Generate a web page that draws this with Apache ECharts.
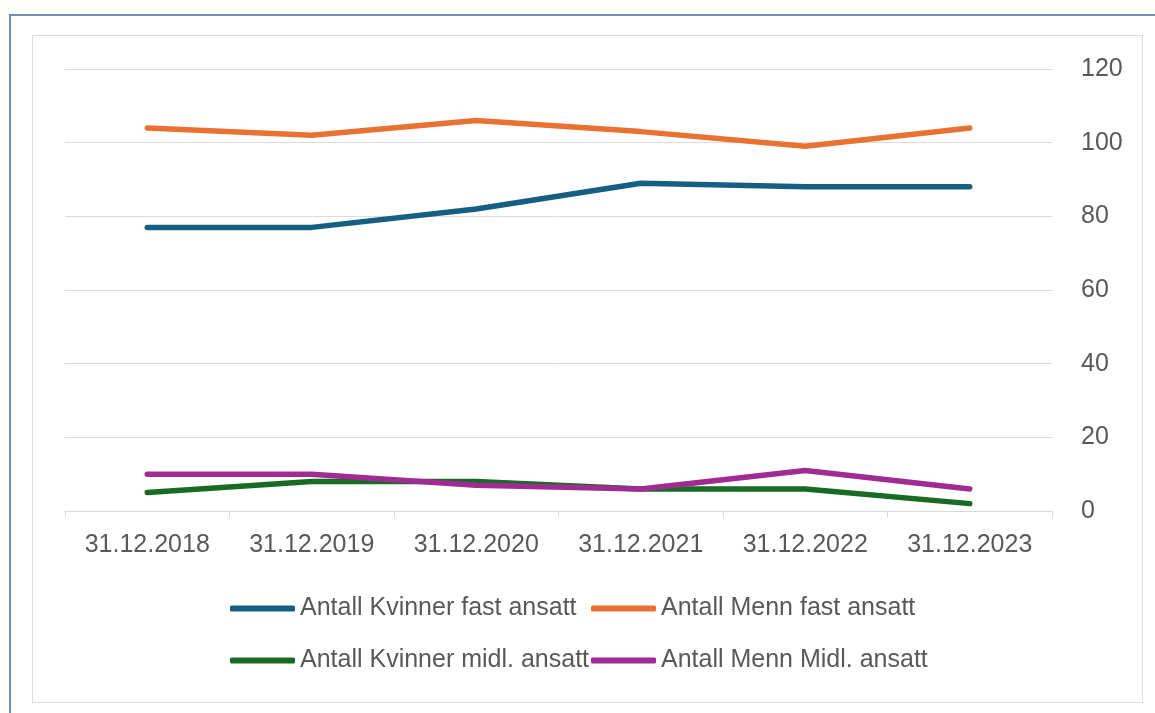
<!DOCTYPE html>
<html>
<head>
<meta charset="utf-8">
<script src="https://cdn.jsdelivr.net/npm/echarts@6/dist/echarts.min.js"></script>
<style>
  html, body { margin: 0; padding: 0; background: #fdfdfb; }
  .outer { position: absolute; left: 9px; top: 14px; width: 1160px; height: 720px; border: 2px solid #7590b3; background: #fff; }
  .inner { position: absolute; left: 32px; top: 35px; width: 1109px; height: 666px; border: 1px solid #dcdcdc; }
  #chart { position: absolute; left: 0; top: 0; width: 1155px; height: 713px; }
</style>
</head>
<body>
<div class="outer"></div>
<div class="inner"></div>
<div id="chart"></div>
<script>
  const dates = ['31.12.2018','31.12.2019','31.12.2020','31.12.2021','31.12.2022','31.12.2023'];
  const seriesNames = ['Antall Kvinner fast ansatt','Antall Menn fast ansatt','Antall Kvinner midl. ansatt','Antall Menn Midl. ansatt'];
  const kvinnerFast = [77, 77, 82, 89, 88, 88];
  const mennFast = [104, 102, 106, 103, 99, 104];
  const kvinnerMidl = [5, 8, 8, 6, 6, 2];
  const mennMidl = [10, 10, 7, 6, 11, 6];
  const colors = ['#156082', '#E97132', '#196B24', '#A02B93'];

  var myChart = echarts.init(document.getElementById('chart'));
  var font = '"Liberation Sans", Arial, sans-serif';

  function legendAt(name, left, top) {
    return {
      data: [name],
      left: left,
      top: top,
      icon: 'roundRect',
      itemWidth: 65,
      itemHeight: 6,
      padding: 0,
      textStyle: { color: '#595959', fontSize: 25, fontFamily: font }
    };
  }

  function lineSeries(name, data, color) {
    return {
      name: name,
      type: 'line',
      data: data,
      symbol: 'none',
      lineStyle: { width: 5.5, color: color, cap: 'round', join: 'round' },
      itemStyle: { color: color }
    };
  }

  var option = {
    animation: false,
    grid: { left: 65, right: 103, top: 69, bottom: 202 },
    legend: [
      legendAt(seriesNames[0], 230, 596),
      legendAt(seriesNames[1], 591, 596),
      legendAt(seriesNames[2], 230, 648),
      legendAt(seriesNames[3], 591, 648)
    ],
    xAxis: {
      type: 'category',
      data: dates,
      boundaryGap: true,
      axisLine: { lineStyle: { color: '#d9d9d9', width: 1 } },
      axisTick: { show: true, length: 7, lineStyle: { color: '#d9d9d9' } },
      axisLabel: { color: '#595959', fontSize: 25, margin: 22, fontFamily: font }
    },
    yAxis: {
      type: 'value',
      position: 'right',
      min: 0,
      max: 120,
      interval: 20,
      axisLine: { show: false },
      axisTick: { show: false },
      splitLine: { lineStyle: { color: '#dcdcdc', width: 1 } },
      axisLabel: { color: '#595959', fontSize: 25, margin: 29, align: 'left', fontFamily: font }
    },
    series: [
      lineSeries(seriesNames[0], kvinnerFast, colors[0]),
      lineSeries(seriesNames[1], mennFast, colors[1]),
      lineSeries(seriesNames[2], kvinnerMidl, colors[2]),
      lineSeries(seriesNames[3], mennMidl, colors[3])
    ]
  };

  option && myChart.setOption(option);
</script>
</body>
</html>
